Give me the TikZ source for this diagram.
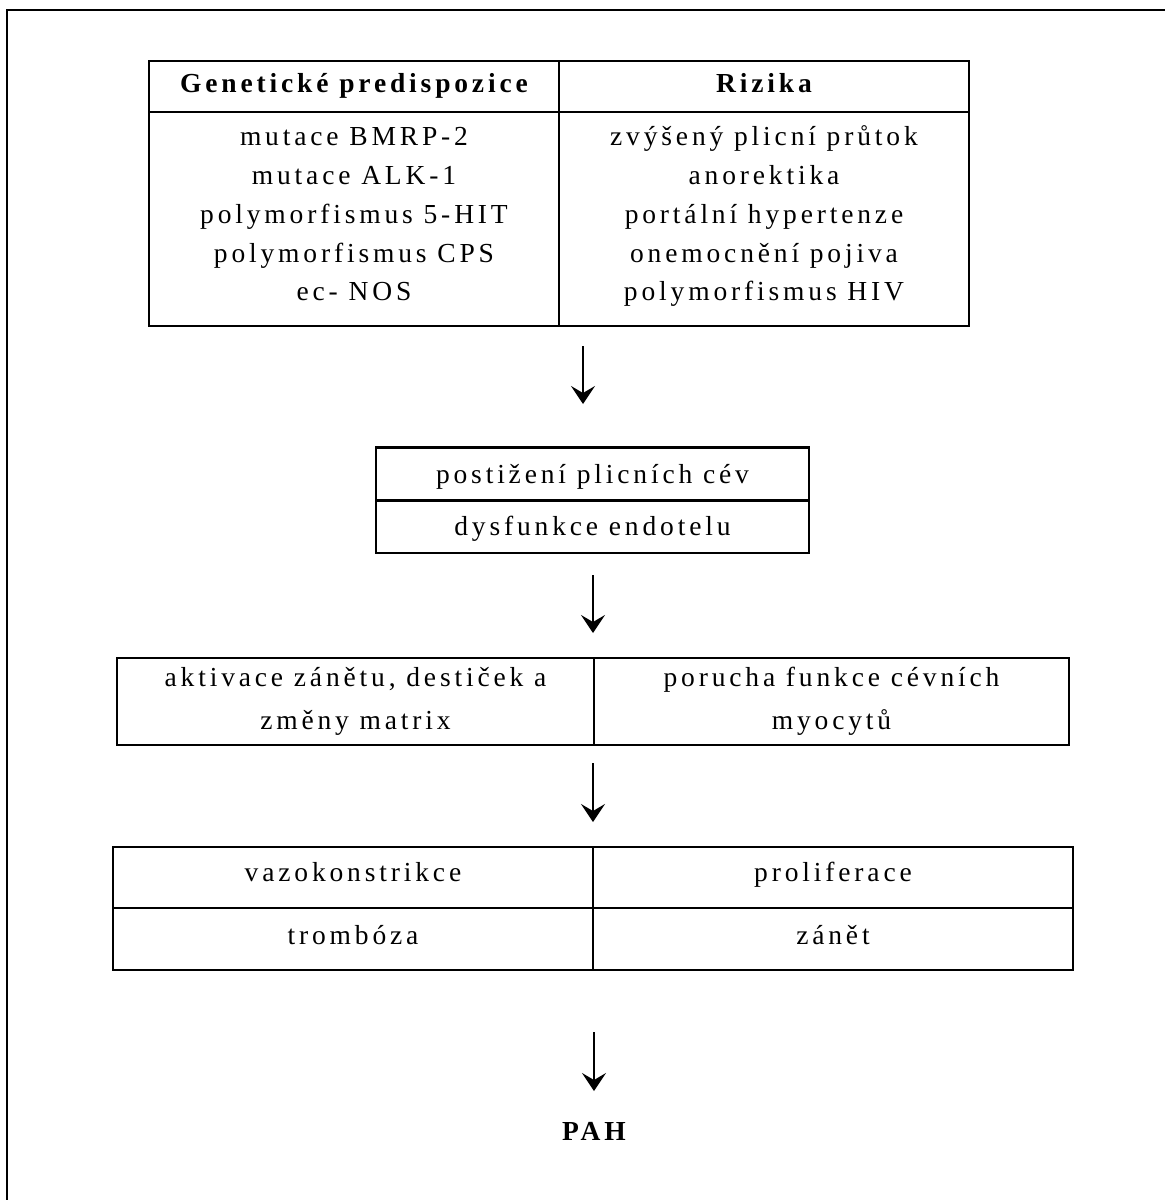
\documentclass[tikz,border=0pt]{standalone}
\usepackage{fontspec}
\setmainfont{Liberation Serif}[LetterSpace=14]
\usetikzlibrary{arrows.meta}
\begin{document}
\begin{tikzpicture}[x=1pt,y=-1pt,
  frame/.style={draw, line width=2.2pt, inner sep=0pt},
  txt/.style={anchor=base, inner sep=0pt, font=\fontsize{27.5}{33}\selectfont},
  btxt/.style={txt, font=\fontsize{27.5}{33}\selectfont\bfseries},
  arr/.style={line width=2pt, -{Stealth[length=18pt,width=24pt,inset=7pt]}}]
\useasboundingbox (0,0) rectangle (1165,1200);
\draw[line width=1.2pt] (7,1200) -- (7,10) -- (1165,10);
% table 1 frames
\node[frame, minimum width=410pt, minimum height=51pt] (h1) at (354,86.5) {};
\node[frame, minimum width=410pt, minimum height=51pt] (h2) at (764,86.5) {};
\node[frame, minimum width=410pt, minimum height=214pt] (b1) at (354,219) {};
\node[frame, minimum width=410pt, minimum height=214pt] (b2) at (764,219) {};
% table 1 texts
\node[btxt] (th1) at (354,92) {Genetické predispozice};
\node[btxt] (th2) at (764,92) {Rizika};
\node[txt] (g1) at (354,145) {mutace BMRP-2};
\node[txt] (g2) at (354,184) {mutace ALK-1};
\node[txt] (g3) at (354,223) {polymorfismus 5-HIT};
\node[txt] (g4) at (354,262) {polymorfismus CPS};
\node[txt] (g5) at (354,300) {ec- NOS};
\node[txt] (r1) at (764,145) {zvýšený plicní průtok};
\node[txt] (r2) at (764,184) {anorektika};
\node[txt] (r3) at (764,223) {portální hypertenze};
\node[txt] (r4) at (764,262) {onemocnění pojiva};
\node[txt] (r5) at (764,300) {polymorfismus HIV};
% box 2
\node[frame, minimum width=433pt, minimum height=53pt] (p1) at (592.5,474) {};
\node[frame, minimum width=433pt, minimum height=52pt] (p2) at (592.5,527) {};
\node[txt] (tp1) at (592.5,483) {postižení plicních cév};
\node[txt] (tp2) at (592.5,535) {dysfunkce endotelu};
% box 3
\node[frame, minimum width=477pt, minimum height=87pt] (c1) at (355.5,701.5) {};
\node[frame, minimum width=475pt, minimum height=87pt] (c2) at (831.5,701.5) {};
\node[txt] (tc1) at (355.5,686) {aktivace zánětu, destiček a};
\node[txt] (tc2) at (355.5,729) {změny matrix};
\node[txt] (tc3) at (831.5,686) {porucha funkce cévních};
\node[txt] (tc4) at (831.5,729) {myocytů};
% box 4
\node[frame, minimum width=480pt, minimum height=61pt] (d1) at (353,877.5) {};
\node[frame, minimum width=480pt, minimum height=61pt] (d2) at (833,877.5) {};
\node[frame, minimum width=480pt, minimum height=62pt] (d3) at (353,939) {};
\node[frame, minimum width=480pt, minimum height=62pt] (d4) at (833,939) {};
\node[txt] (td1) at (353,881.5) {vazokonstrikce};
\node[txt] (td2) at (833,881.5) {proliferace};
\node[txt] (td3) at (353,944.5) {trombóza};
\node[txt] (td4) at (833,944.5) {zánět};
% result
\node[btxt] (pah) at (594,1140) {PAH};
% arrows
\coordinate (a1s) at (583,346); \coordinate (a1e) at (583,404);
\coordinate (a2s) at (593,575); \coordinate (a2e) at (593,633);
\coordinate (a3s) at (593,763); \coordinate (a3e) at (593,822);
\coordinate (a4s) at (594,1032); \coordinate (a4e) at (594,1091);
\draw[arr] (a1s) -- (a1e);
\draw[arr] (a2s) -- (a2e);
\draw[arr] (a3s) -- (a3e);
\draw[arr] (a4s) -- (a4e);
\end{tikzpicture}
\end{document}
